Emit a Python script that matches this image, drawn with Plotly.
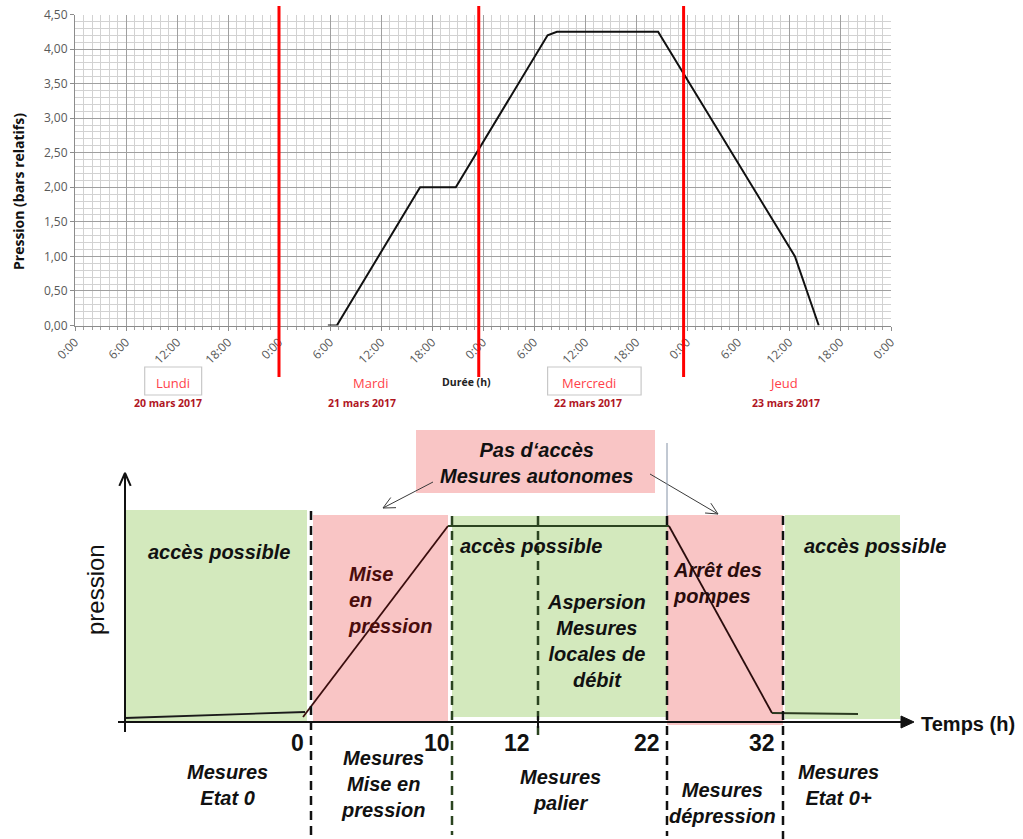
import numpy as np
import plotly.graph_objects as go

W, H = 1023, 839

# ---------------- top chart data ----------------
hours = [29.75, 30.8, 40.6, 44.8, 55.6, 56.7, 68.6, 84.7, 87.5]
pression = [0.0, 0.0, 2.0, 2.0, 4.2, 4.25, 4.25, 1.0, 0.0]
day_marks_h = [24.0, 47.5, 71.6]
tick_hours = list(range(0, 97, 6))
tick_text = ["0:00", "6:00", "12:00", "18:00"] * 4 + ["0:00"]
y_ticks = [0.0, 0.5, 1.0, 1.5, 2.0, 2.5, 3.0, 3.5, 4.0, 4.5]
days = ["Lundi", "Mardi", "Mercredi", "Jeud"]
day_pos_h = [11.5, 34.8, 60.5, 83.3]
dates = ["20 mars 2017", "21 mars 2017", "22 mars 2017", "23 mars 2017"]
date_pos_h = [10.9, 33.8, 60.4, 83.6]
boxed_days = [(8.2, 14.9), (55.6, 66.6)]

# ---------------- bottom schematic data (schematic units) ----------------
zone_x0 = [126, 313, 452, 667, 785]
zone_x1 = [307, 448, 667, 783, 900]
zone_top = [510, 515, 516, 515, 515]
zone_bot = [722, 723, 717, 725, 719]
zone_kind = ["ok", "no", "ok", "no", "ok"]
bound_x = [311, 452, 538, 667, 783]
bound_y0 = [511, 516, 516, 516, 516]
bound_y1 = [835, 835, 738, 836, 839]
bound_col = ["#111111", "#2b4420", "#2b4420", "#111111", "#111111"]
bound_lbl = ["0", "10", "12", "22", "32"]
bound_lbl_x = [297, 437, 517, 647, 762]
curve_x = [[125, 305], [303, 448], [448, 669], [669, 772], [772, 858]]
curve_y = [[718, 712], [717, 526], [526, 526], [526, 713], [713, 714]]
curve_col = ["#1a1a1a", "#3a0d0d", "#2b4420", "#2a0d0d", "#2b3a20"]
zone_texts = ["accès possible", "Mise<br>en<br>pression", "accès possible",
              "Aspersion<br>Mesures<br>locales de<br>débit", "Arrêt des<br>pompes",
              "accès possible"]
zone_text_x = [219, 346, 458, 596, 671, 802]
zone_text_y = [552, 600, 546, 641, 583, 546]
zone_text_anchor = ["center", "left", "left", "center", "left", "left"]
zone_text_col = ["#111111", "#4a0c0c", "#111111", "#111111", "#2a0c0c", "#111111"]
meas_texts = ["Mesures<br>Etat 0", "Mesures<br>Mise en<br>pression", "Mesures<br>palier",
              "Mesures<br>dépression", "Mesures<br>Etat 0+"]
meas_x = [227, 383, 560, 722, 838]
meas_y = [785, 784, 790, 803, 785]

GREEN = "#d3e9bd"
PINK = "#f9c5c5"


def py(p):
    return (H - p) / H


fig = go.Figure()

# ---------- top chart ----------
fig.add_trace(go.Scatter(x=hours, y=pression, mode="lines",
                         line=dict(color="#111111", width=2),
                         xaxis="x", yaxis="y", showlegend=False, hoverinfo="skip"))

shapes = []
for h in day_marks_h:
    shapes.append(dict(type="line", xref="x", yref="paper", x0=h, x1=h,
                       y0=py(377), y1=py(6), line=dict(color="#ff0000", width=3)))
for (a, b) in boxed_days:
    shapes.append(dict(type="rect", xref="x", yref="paper", x0=a, x1=b,
                       y0=py(395), y1=py(367), line=dict(color="#c8c8c8", width=1.2),
                       fillcolor="white"))

annots = []
for d, h in zip(days, day_pos_h):
    annots.append(dict(text=d, x=h, y=py(383), xref="x", yref="paper", showarrow=False,
                       xanchor="center", yanchor="middle",
                       font=dict(family="Open Sans", size=13, color="#ff3f4a")))
for d, h in zip(dates, date_pos_h):
    annots.append(dict(text="<b>" + d + "</b>", x=h, y=py(403), xref="x", yref="paper",
                       xanchor="center", yanchor="middle",
                       showarrow=False, font=dict(family="Open Sans", size=10.5, color="#b0161f")))
annots.append(dict(text="<b>Durée (h)</b>", x=466 / W, y=py(382), xref="paper", yref="paper",
                   xanchor="center", yanchor="middle",
                   showarrow=False, font=dict(family="Open Sans", size=10.5, color="#222222")))
annots.append(dict(text="<b>Pression (bars relatifs)</b>", x=18 / W, y=py(192), xref="paper",
                   yref="paper", showarrow=False, textangle=-90, xanchor="center", yanchor="middle",
                   font=dict(family="Open Sans", size=14, color="#111111")))

# ---------- bottom schematic ----------
for x0, x1, t, b, k in zip(zone_x0, zone_x1, zone_top, zone_bot, zone_kind):
    shapes.append(dict(type="rect", xref="x2", yref="y2", x0=x0, x1=x1, y0=t, y1=b,
                       fillcolor=GREEN if k == "ok" else PINK, line=dict(width=0), layer="below"))
# header box
shapes.append(dict(type="rect", xref="x2", yref="y2", x0=416, x1=655, y0=430, y1=493,
                   fillcolor=PINK, line=dict(width=0), layer="below"))
# thin vertical line
shapes.append(dict(type="line", xref="x2", yref="y2", x0=667, x1=667, y0=443, y1=516,
                   line=dict(color="#8492a6", width=1)))
for bx, y0, y1, c in zip(bound_x, bound_y0, bound_y1, bound_col):
    shapes.append(dict(type="line", xref="x2", yref="y2", x0=bx, x1=bx, y0=y0, y1=y1,
                       line=dict(color=c, width=2.5, dash="9px,6px")))
# axes
shapes.append(dict(type="line", xref="x2", yref="y2", x0=118, x1=903, y0=722, y1=722,
                   line=dict(color="#111111", width=2)))
shapes.append(dict(type="line", xref="x2", yref="y2", x0=125, x1=125, y0=732, y1=474,
                   line=dict(color="#111111", width=2)))
shapes.append(dict(type="path", xref="x2", yref="y2",
                   path="M 901 716 L 914 722 L 901 728 Z", fillcolor="#111111",
                   line=dict(color="#111111", width=1)))
shapes.append(dict(type="line", xref="x2", yref="y2", x0=538, x1=538, y0=716, y1=728,
                   line=dict(color="#111111", width=2)))

for cx, cy, c in zip(curve_x, curve_y, curve_col):
    fig.add_trace(go.Scatter(x=cx, y=cy, mode="lines", line=dict(color=c, width=1.8),
                             xaxis="x2", yaxis="y2", showlegend=False, hoverinfo="skip"))


def chevron(tip, frm, length=13, ang=26):
    v = np.array(frm, float) - np.array(tip, float)
    v /= np.linalg.norm(v)
    out_x, out_y = [], []
    for s in (1, -1):
        a = np.radians(ang * s)
        r = np.array([[np.cos(a), -np.sin(a)], [np.sin(a), np.cos(a)]]) @ v
        out_x.append(tip[0] + r[0] * length)
        out_y.append(tip[1] + r[1] * length)
    return [out_x[0], tip[0], out_x[1]], [out_y[0], tip[1], out_y[1]]


arrows = [((433, 482), (383, 508)), ((650, 474), (718, 514))]
for frm, tip in arrows:
    fig.add_trace(go.Scatter(x=[frm[0], tip[0]], y=[frm[1], tip[1]], mode="lines",
                             line=dict(color="#3a3a3a", width=1), xaxis="x2", yaxis="y2",
                             showlegend=False, hoverinfo="skip"))
    cx, cy = chevron(tip, frm)
    fig.add_trace(go.Scatter(x=cx, y=cy, mode="lines", line=dict(color="#3a3a3a", width=1),
                             xaxis="x2", yaxis="y2", showlegend=False, hoverinfo="skip"))
cx, cy = chevron((125, 473), (125, 730), length=14, ang=24)
fig.add_trace(go.Scatter(x=cx, y=cy, mode="lines", line=dict(color="#111111", width=2),
                         xaxis="x2", yaxis="y2", showlegend=False, hoverinfo="skip"))

BI = "Liberation Sans"
for t, x, y, anc, c in zip(zone_texts, zone_text_x, zone_text_y, zone_text_anchor, zone_text_col):
    annots.append(dict(text="<b><i>" + t + "</i></b>", x=x, y=y, xref="x2", yref="y2",
                       xanchor=anc, yanchor="middle", align=anc, showarrow=False,
                       font=dict(family=BI, size=20, color=c)))
for t, x, y in zip(meas_texts, meas_x, meas_y):
    annots.append(dict(text="<b><i>" + t + "</i></b>", x=x, y=y, xref="x2", yref="y2",
                       xanchor="center", yanchor="middle", align="center", showarrow=False,
                       font=dict(family=BI, size=20, color="#111111")))
for t, x in zip(bound_lbl, bound_lbl_x):
    annots.append(dict(text="<b>" + t + "</b>", x=x, y=743, xref="x2", yref="y2",
                       xanchor="center", yanchor="middle",
                       showarrow=False, font=dict(family=BI, size=23, color="#111111")))
annots.append(dict(text="<b><i>Pas d‘accès<br>Mesures autonomes</i></b>", x=536, y=463,
                   xref="x2", yref="y2", showarrow=False, align="center",
                   xanchor="center", yanchor="middle",
                   font=dict(family=BI, size=20, color="#111111")))
annots.append(dict(text="<b>Temps (h)</b>", x=919, y=724, xref="x2", yref="y2", xanchor="left",
                   yanchor="middle", showarrow=False, font=dict(family=BI, size=20, color="#111111")))
annots.append(dict(text="pression", x=95, y=590, xref="x2", yref="y2", textangle=-90,
                   xanchor="center", yanchor="middle",
                   showarrow=False, font=dict(family=BI, size=24, color="#111111")))

fig.update_layout(
    width=W, height=H, autosize=False,
    margin=dict(l=0, r=0, t=0, b=0, pad=0),
    paper_bgcolor="white", plot_bgcolor="white",
    separators=", ",
    shapes=shapes, annotations=annots,
    xaxis=dict(domain=[75 / W, 891 / W], range=[0, 96], anchor="y", automargin=False,
               tickmode="array", tickvals=tick_hours, ticktext=tick_text, tickangle=-45,
               tickfont=dict(family="Open Sans", size=12, color="#595959"),
               showgrid=True, gridcolor="#a0a0a0", gridwidth=1.3,
               showline=True, linecolor="#8c8c8c", linewidth=1,
               ticks="outside", ticklen=4, tickcolor="#8c8c8c", zeroline=False,
               minor=dict(tickmode="linear", tick0=0, dtick=1, showgrid=True,
                          gridcolor="#d2d2d2", gridwidth=1, ticks="outside", ticklen=3,
                          tickcolor="#a0a0a0")),
    yaxis=dict(domain=[py(325.5), py(14.5)], range=[0, 4.5], anchor="x", automargin=False,
               tickmode="array", tickvals=y_ticks, tickformat=".2f",
               tickfont=dict(family="Open Sans", size=12, color="#595959"),
               showgrid=True, gridcolor="#a0a0a0", gridwidth=1.3,
               showline=True, linecolor="#8c8c8c", linewidth=1,
               ticks="outside", ticklen=4, tickcolor="#8c8c8c", zeroline=False,
               minor=dict(tickmode="linear", tick0=0, dtick=0.1, showgrid=True,
                          gridcolor="#d2d2d2", gridwidth=1)),
    xaxis2=dict(domain=[0, 1], range=[0, W], anchor="y2", visible=False, automargin=False),
    yaxis2=dict(domain=[0, 0.5], range=[H, H / 2], anchor="x2", visible=False, automargin=False),
)

fig.write_html("out.html", config={"displayModeBar": False},
               post_script="document.body.style.margin='0px';document.body.style.overflow='hidden';")
